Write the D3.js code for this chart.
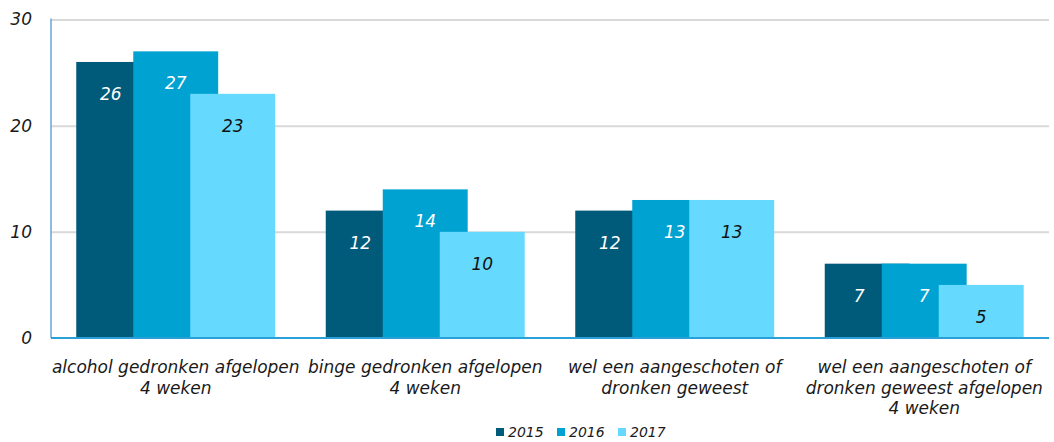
<!DOCTYPE html>
<html>
<head>
  <meta charset="utf-8">
  <script src="https://d3js.org/d3.v7.min.js"></script>
  <style>
  body { margin: 0; background: #fff; }
  svg text { font-family: "DejaVu Sans", Verdana, sans-serif; font-style: italic; }
  </style>
</head>
<body>
<div id="chart"></div>
<script>
// data
var categories = [
  ["alcohol gedronken afgelopen", "4 weken"],
  ["binge gedronken afgelopen", "4 weken"],
  ["wel een aangeschoten of", "dronken geweest"],
  ["wel een aangeschoten of", "dronken geweest afgelopen", "4 weken"]
];
var years = ["2015", "2016", "2017"];
var v2015 = [26, 12, 12, 7];
var v2016 = [27, 14, 13, 7];
var v2017 = [23, 10, 13, 5];
var yTicks = [0, 10, 20, 30];

var colors = { "2015": "#005a7a", "2016": "#00a2d1", "2017": "#66d9ff" };
var labelColors = { "2015": "#fff", "2016": "#fff", "2017": "#111" };
var series = [v2015, v2016, v2017];

var W = 1054, H = 442;
var plotL = 51, plotR = 1049, plotT = 19.5, plotB = 338;

var svg = d3.select("#chart").append("svg")
  .attr("width", W).attr("height", H);

var x = d3.scaleBand().domain(d3.range(categories.length)).range([plotL, plotR]);
var y = d3.scaleLinear().domain([0, 30]).range([plotB, plotT]);
var sub = d3.scaleBand().domain(years).range([0, 171]);
var barW = sub.bandwidth() * 1.49;

function barX(j, yr) {
  return x(j) + x.bandwidth() / 2 - 99.5 + sub(yr);
}

// gridlines + tick labels
var yAxis = svg.append("g")
  .attr("transform", "translate(" + plotL + ",0)")
  .call(d3.axisLeft(y).tickValues(yTicks).tickSize(-(plotR - plotL)).tickPadding(19));
yAxis.select(".domain").remove();
yAxis.selectAll(".tick line")
  .attr("stroke", "#d9d9d9").attr("stroke-width", 2)
  .filter(function(d) { return d === 0; }).remove();
yAxis.selectAll(".tick text")
  .attr("fill", "#1a1a1a").style("font-size", "17px");

// bars, drawn in year order so later years overlap earlier ones
years.forEach(function(yr, i) {
  svg.append("g").selectAll("rect")
    .data(series[i])
    .enter().append("rect")
    .attr("x", function(d, j) { return barX(j, yr); })
    .attr("y", function(d) { return y(d); })
    .attr("width", barW)
    .attr("height", function(d) { return plotB - y(d); })
    .attr("fill", colors[yr]);
});

// value labels on top of everything
years.forEach(function(yr, i) {
  svg.append("g").selectAll("text")
    .data(series[i])
    .enter().append("text")
    .attr("x", function(d, j) { return barX(j, yr) + barW / 2 - (i === 0 ? 8 : 0); })
    .attr("y", function(d) { return y(d) + 32; })
    .attr("dy", "0.35em")
    .attr("text-anchor", "middle")
    .attr("fill", labelColors[yr])
    .style("font-size", "17px")
    .text(function(d) { return d; });
});

// axis lines
svg.append("line")
  .attr("x1", plotL).attr("x2", plotL).attr("y1", plotT - 1).attr("y2", plotB)
  .attr("stroke", "#6aa5da").attr("stroke-width", 1.5);
svg.append("line")
  .attr("x1", plotL).attr("x2", plotR).attr("y1", plotB).attr("y2", plotB)
  .attr("stroke", "#2aa0d8").attr("stroke-width", 2);

// category labels
var cat = svg.append("g").selectAll("text")
  .data(categories)
  .enter().append("text")
  .attr("x", function(d, j) { return x(j) + x.bandwidth() / 2; })
  .attr("y", 373)
  .attr("text-anchor", "middle")
  .attr("fill", "#1a1a1a")
  .style("font-size", "17px");
cat.selectAll("tspan")
  .data(function(d) { return d; })
  .enter().append("tspan")
  .attr("x", function() { return d3.select(this.parentNode).attr("x"); })
  .attr("dy", function(d, k) { return k === 0 ? 0 : 20.5; })
  .text(function(d) { return d; });

// legend
var legX = [496, 557, 618];
var leg = svg.append("g").selectAll("g")
  .data(years)
  .enter().append("g")
  .attr("transform", function(d, i) { return "translate(" + legX[i] + ",428)"; });
leg.append("rect")
  .attr("width", 8).attr("height", 8)
  .attr("fill", function(d) { return colors[d]; });
leg.append("text")
  .attr("x", 12).attr("y", 4).attr("dy", "0.35em")
  .attr("fill", "#1a1a1a")
  .style("font-size", "14px")
  .text(function(d) { return d; });
</script>
</body>
</html>
